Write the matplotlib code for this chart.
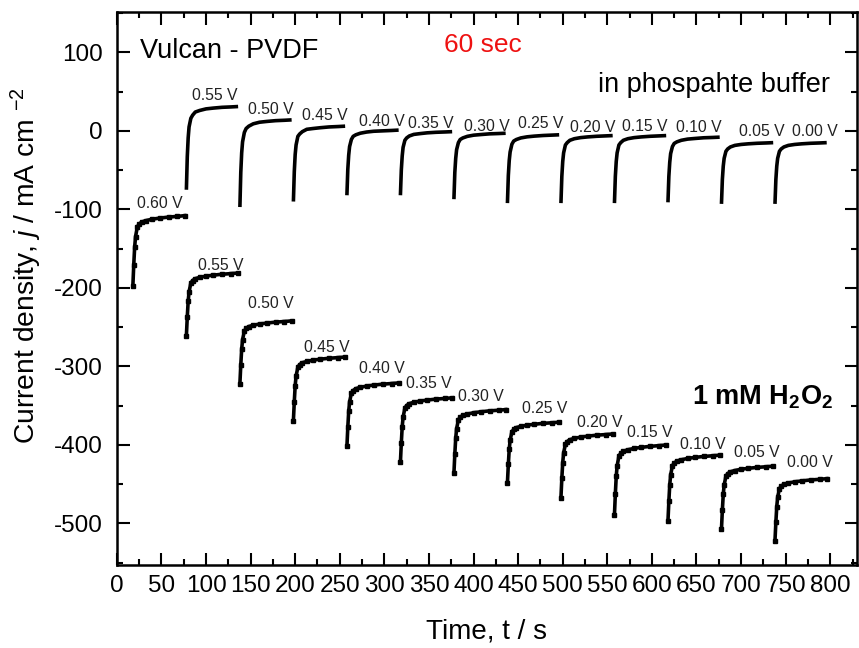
import numpy as np
import matplotlib
matplotlib.use('Agg')
import matplotlib.pyplot as plt
from matplotlib.ticker import MultipleLocator

plt.rcParams['font.family'] = ['Liberation Sans', 'DejaVu Sans']
plt.rcParams['mathtext.fontset'] = 'custom'
plt.rcParams['mathtext.rm'] = 'Liberation Sans'
plt.rcParams['mathtext.it'] = 'Liberation Sans:italic'
plt.rcParams['mathtext.bf'] = 'Liberation Sans:bold'
plt.rcParams['axes.unicode_minus'] = False

# seconds after each potential step
offsets = [0, 1, 2, 3, 5, 7, 10, 15, 22, 30, 40, 50, 58]

# phosphate buffer, steps 0.55 V ... 0.00 V
buf_start = [78, 138, 198, 258, 318, 378, 438, 498, 558, 618, 678, 738]
buf_labels = ['0.55 V', '0.50 V', '0.45 V', '0.40 V', '0.35 V', '0.30 V',
              '0.25 V', '0.20 V', '0.15 V', '0.10 V', '0.05 V', '0.00 V']
buf_j = [
    [-75, -33, -9, 5, 16, 20, 24, 26, 28, 29, 30, 30.5, 31],
    [-97, -53, -28, -14, -2, 3, 6, 9, 11, 12, 13, 13.5, 14],
    [-90, -52, -30, -18, -7, -4, -1, 2, 3, 4, 5, 5.5, 6],
    [-82, -49, -31, -20, -11, -7, -5, -3, -1.5, -0.5, 0, 0.5, 1],
    [-82, -50, -32, -21, -12, -9, -6.5, -4.5, -3.5, -2.5, -1.8, -1.4, -1],
    [-87, -53, -35, -24, -15, -11, -9, -7, -5.5, -4.7, -3.8, -3.4, -3],
    [-92, -57, -38, -27, -17, -13, -11, -9, -7.6, -6.7, -5.9, -5.4, -5],
    [-92, -58, -39, -28, -18, -15, -12, -10, -8.6, -7.7, -6.9, -6.4, -6],
    [-92, -58, -39, -28, -18, -15, -12, -10, -8.6, -7.7, -6.9, -6.4, -6],
    [-91, -58, -40, -29, -20, -16, -14, -12, -10.5, -9.7, -8.8, -8.4, -8],
    [-93, -62, -45, -35, -26, -23, -20.5, -18.5, -17.3, -16.5, -15.8, -15.4, -15],
    [-93, -62, -45, -35, -26, -23, -20.5, -18.5, -17.3, -16.5, -15.8, -15.4, -15],
]
buf_label_xy = [(110, 45), (173, 27), (233, 20), (297, 11.5), (352, 9), (415, 6),
                (475, 9), (534, 4), (592, 5), (653, 4), (723, -1), (783, -1)]

# 1 mM H2O2, steps 0.60 V ... 0.00 V
h2o2_start = [18, 78, 138, 198, 258, 318, 378, 438, 498, 558, 618, 678, 738]
h2o2_labels = ['0.60 V'] + buf_labels
h2o2_j = [
    [-197, -170.3, -148, -134.7, -122.2, -118.7, -116, -114.2, -112.4, -111.1, -109.8, -108.9, -108],
    [-261, -237, -217, -205, -193.8, -190.6, -188.2, -186.6, -185, -183.8, -182.6, -181.8, -181],
    [-322, -298, -278, -266, -254.8, -251.6, -249.2, -247.6, -246, -244.8, -243.6, -242.8, -242],
    [-369, -344.7, -324.4, -312.3, -301, -297.7, -295.3, -293.7, -292, -290.8, -289.6, -288.8, -288],
    [-402, -377.7, -357.4, -345.3, -334, -330.7, -328.3, -326.7, -325, -323.8, -322.6, -321.8, -321],
    [-422, -397.4, -376.9, -364.6, -353.1, -349.8, -347.4, -345.7, -344.1, -342.9, -341.6, -340.8, -340],
    [-436, -411.7, -391.4, -379.3, -368, -364.7, -362.3, -360.7, -359, -357.8, -356.6, -355.8, -355],
    [-448, -424.9, -405.6, -394.1, -383.3, -380.2, -377.9, -376.4, -374.8, -373.7, -372.5, -371.8, -371],
    [-467, -442.7, -422.4, -410.3, -399, -395.7, -393.3, -391.7, -390, -388.8, -387.6, -386.8, -386],
    [-489, -462.3, -440, -426.7, -414.2, -410.7, -408, -406.2, -404.4, -403.1, -401.8, -400.9, -400],
    [-497, -471.8, -450.8, -438.2, -426.4, -423.1, -420.6, -418.9, -417.2, -415.9, -414.7, -413.8, -413],
    [-507, -483, -463, -451, -439.8, -436.6, -434.2, -432.6, -431, -429.8, -428.6, -427.8, -427],
    [-522, -498.3, -478.5, -466.7, -455.6, -452.5, -450.1, -448.5, -447, -445.8, -444.6, -443.8, -443],
]
h2o2_label_xy = [(48, -92), (116, -171), (173, -220), (235, -276), (297, -303), (350, -322),
                 (408, -338), (480, -354), (542, -372), (598, -384), (657, -400), (718, -410),
                 (777, -423)]

fig = plt.figure(figsize=(8.59, 6.48), dpi=100)
ax = fig.add_axes([0.136, 0.128, 0.8617, 0.853])

off = np.array(offsets)
for t0, j in zip(buf_start, buf_j):
    ax.plot(t0 + off, j, color='k', lw=2.6, solid_capstyle='butt')
for t0, j in zip(h2o2_start, h2o2_j):
    ax.plot(t0 + off, j, color='k', lw=2.6, marker='s', ms=2.8)

for lab, (x, y) in zip(buf_labels, buf_label_xy):
    ax.text(x, y, lab, fontsize=11.3, ha='center', va='center', color='#222222')
for lab, (x, y) in zip(h2o2_labels, h2o2_label_xy):
    ax.text(x, y, lab, fontsize=11.3, ha='center', va='center', color='#222222')

ax.text(26, 93, 'Vulcan - PVDF', fontsize=19.5, ha='left', va='baseline')
ax.text(367, 100.5, '60 sec', fontsize=19, color='#ee1111', ha='left', va='baseline')
ax.text(800, 50, 'in phospahte buffer', fontsize=19.5, ha='right', va='baseline')
ax.text(803, -349, r'$\mathbf{1\ mM\ H_2O_2}$', fontsize=19.5, ha='right', va='baseline')

ax.set_xlim(0, 830)
ax.set_ylim(-553, 151)
ax.xaxis.set_major_locator(MultipleLocator(50))
ax.xaxis.set_minor_locator(MultipleLocator(25))
ax.yaxis.set_major_locator(MultipleLocator(100))
ax.yaxis.set_minor_locator(MultipleLocator(50))
ax.tick_params(which='both', direction='in', top=True, right=True, width=1.5, labelsize=17.5)
ax.tick_params(which='major', length=9)
ax.tick_params(which='minor', length=4.5)
ax.tick_params(axis='x', which='both', pad=7.5)
ax.tick_params(axis='y', which='both', pad=10)
for s in ax.spines.values():
    s.set_linewidth(1.8)

ax.set_xlabel('Time, t / s', fontsize=20, labelpad=15)
ax.set_ylabel(r'Current density, $j$ / mA cm $^{-2}$', fontsize=20.3)
ax.yaxis.set_label_coords(-0.099, 0.5415)

fig.savefig('out.png', dpi=100)
